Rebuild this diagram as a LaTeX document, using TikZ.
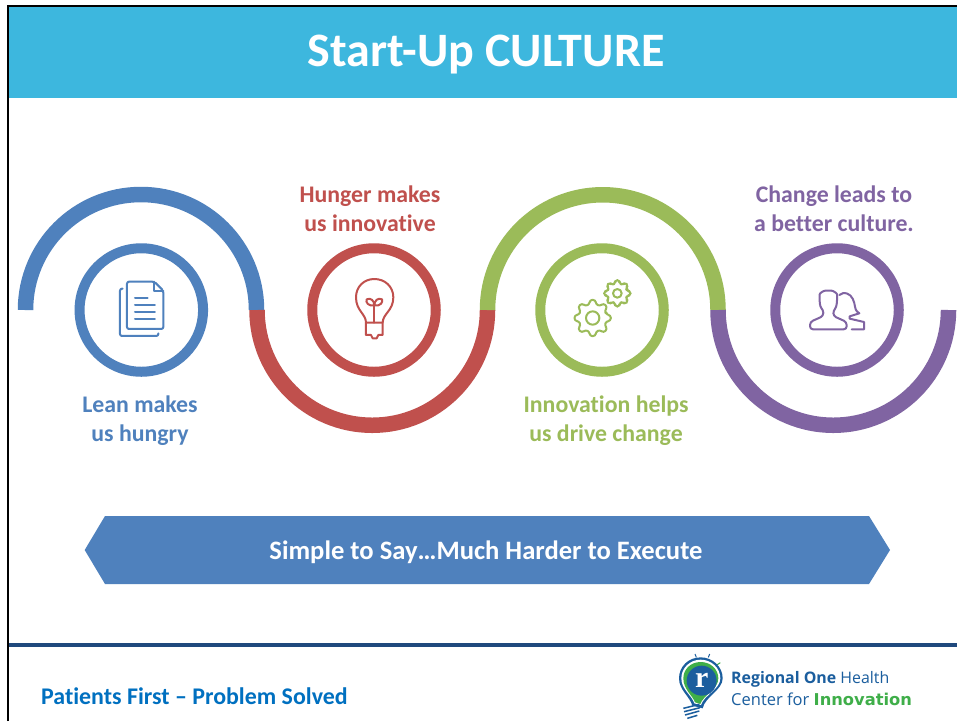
\documentclass[tikz,border=0pt]{standalone}
\usepackage{fontspec}
\setmainfont[Ligatures=NoCommon]{Carlito}
\newfontfamily\logofont{Open Sans}
\newfontfamily\logobold{DejaVu Sans}
\newfontfamily\logoserif{Liberation Serif}
\definecolor{cblue}{HTML}{4F81BD}
\definecolor{cred}{HTML}{C0504D}
\definecolor{cgreen}{HTML}{9BBB59}
\definecolor{cpurple}{HTML}{8064A2}
\definecolor{head}{HTML}{3DB7DE}
\definecolor{rule}{HTML}{1F497D}
\definecolor{foot}{HTML}{0070C0}
\definecolor{logob}{HTML}{1B5E9E}
\definecolor{logog}{HTML}{3FAE49}
\newcommand{\gearshape}[5]{% cx cy ro ri teeth
  \draw[rounded corners=2.5pt] ({#1+#4*cos(-13)},{#2+#4*sin(-13)})
  \foreach \k in {1,...,#5}{
    \pgfextra{\pgfmathsetmacro{\aa}{(\k-1)*360/#5}}
    -- ({#1+#3*cos(\aa-9)},{#2+#3*sin(\aa-9)})
    -- ({#1+#3*cos(\aa+9)},{#2+#3*sin(\aa+9)})
    -- ({#1+#4*cos(\aa+13)},{#2+#4*sin(\aa+13)})
    -- ({#1+#4*cos(\aa+360/#5-13)},{#2+#4*sin(\aa+360/#5-13)})
  } -- cycle;
}
\tikzset{
  x=1pt,y=-1pt,
  swoop/.style={line width=15.5pt,line cap=butt},
  ring/.style={circle,line width=10pt,minimum size=123.5pt,inner sep=0pt},
  lab/.style={align=center,inner sep=0pt,font=\fontsize{23.8}{29}\selectfont\bfseries},
  icon/.style={line width=2pt,line join=round,line cap=round},
}
\begin{document}
\begin{tikzpicture}
\useasboundingbox (0,0) rectangle (957,721);
\fill[white] (0,0) rectangle (957,721);
% header
\fill[head] (8,5) rectangle (957,98);
\draw[black,line width=2pt] (8,721) -- (8,5.5) -- (957,5.5);
\node[text=white,inner sep=0pt,font=\fontsize{48}{54}\selectfont\bfseries] (title) at (486,55) {Start-Up CULTURE};
% swoops
\draw[swoop,cblue] (25.5,310) arc[start angle=180,end angle=360,radius=115.5];
\draw[swoop,cred] (257,310) arc[start angle=180,end angle=0,radius=115.25];
\draw[swoop,cgreen] (487.5,310) arc[start angle=180,end angle=360,radius=115.25];
\draw[swoop,cpurple] (718,310) arc[start angle=180,end angle=0,radius=115.25];
% rings
\node[ring,draw=cblue] (r1) at (141.3,310) {};
\node[ring,draw=cred] (r2) at (374,310) {};
\node[ring,draw=cgreen] (r3) at (602,310) {};
\node[ring,draw=cpurple] (r4) at (837,310) {};
% labels
\node[lab,text=cblue] (l1) at (140,421) {Lean makes\\us hungry};
\node[lab,text=cred] (l2) at (370,209) {Hunger makes\\us innovative};
\node[lab,text=cgreen] (l3) at (606,421) {Innovation helps\\us drive change};
\node[lab,text=cpurple] (l4) at (834,209) {Change leads to\\a better culture.};
% document icon
\begin{scope}[shift={(60,230)},x=0.3333pt,y=-0.3333pt,icon,draw=cblue]
  \draw[rounded corners=2pt] (283,155) -- (201,155) -- (201,297) -- (310,297) -- (310,182) -- cycle;
  \draw (283,155) -- (283,182) -- (310,182);
  \draw[rounded corners=2pt] (188,176) -- (180,176) -- (180,318) -- (295,318) -- (295,310);
  \draw (225,205) -- (263,205) (225,226) -- (285,226) (225,247) -- (285,247) (225,268) -- (285,268);
\end{scope}
% bulb icon
\begin{scope}[shift={(300,240)},x=0.3333pt,y=-0.3333pt,icon,draw=cred]
  \draw (198,248) .. controls (198,222) and (168,212) .. (168,172)
     .. controls (168,140) and (192,117) .. (223,117)
     .. controls (255,117) and (280,140) .. (280,172)
     .. controls (280,212) and (248,222) .. (248,248) -- cycle;
  \draw (198,248) -- (198,285) -- (213,285) -- (218,295) -- (230,295) -- (235,285) -- (248,285) -- (248,248);
  \draw (223,248) -- (223,192);
  \draw (223,196) .. controls (205,200) and (196,186) .. (200,178) .. controls (212,172) and (223,182) .. (223,196);
  \draw (223,196) .. controls (241,200) and (250,186) .. (246,178) .. controls (234,172) and (223,182) .. (223,196);
\end{scope}
% gears icon
\begin{scope}[shift={(530,240)},x=0.3333pt,y=-0.3333pt,icon,draw=cgreen]
  \gearshape{188}{234}{55}{42}{8}
  \draw (188,234) circle[radius=20];
  \gearshape{262}{160}{40}{30}{8}
  \draw (262,160) circle[radius=13];
\end{scope}
% people icon
\begin{scope}[shift={(765,240)},x=0.3333pt,y=-0.3333pt,icon,draw=cpurple]
  \draw[rounded corners=3pt] (135,268) -- (135,246) -- (175,228) -- (175,210)
    .. controls (165,200) and (164,185) .. (164,172)
    .. controls (164,160) and (175,152) .. (190,152)
    .. controls (205,152) and (216,160) .. (216,172)
    .. controls (216,185) and (215,200) .. (205,212)
    -- (205,228) -- (245,246) -- (245,268) -- cycle;
  \draw (223,165) .. controls (230,158) and (240,158) .. (245,160)
    .. controls (262,165) and (268,185) .. (270,200)
    .. controls (272,212) and (278,218) .. (283,220)
    -- (254,229) -- (254,236) -- (297,246) -- (297,268) -- (260,268);
\end{scope}
% band
\fill[cblue] (105,516) -- (869,516) -- (890,550) -- (869,584) -- (105,584) -- (84.7,550) -- cycle;
\node[text=white,inner sep=0pt,font=\fontsize{26.6}{30}\selectfont\bfseries] (band) at (486,552) {Simple to Say…Much Harder to Execute};
% footer
\fill[rule] (9,642.5) rectangle (957,647);
\node[anchor=base west,text=foot,inner sep=0pt,font=\fontsize{23.9}{28}\selectfont\bfseries] (foot) at (41,704) {Patients First – Problem Solved};
% logo
\begin{scope}[shift={(660,640)},x=0.3333pt,y=-0.3333pt]
  \draw[logob,line width=1pt] (105,42) -- (109,52) (149,42) -- (145,52);
  \draw[logog,line width=1pt] (181,68) -- (170,75);
  \fill[logob] (97,197) .. controls (90,170) and (57,150) .. (57,115)
     .. controls (57,80) and (85,52) .. (122,52)
     .. controls (158,52) and (188,80) .. (188,115)
     .. controls (188,150) and (135,170) .. (128,205) -- cycle;
  \fill[white] (103,190) .. controls (95,165) and (64,148) .. (64,115)
     .. controls (64,84) and (90,59) .. (122,59)
     .. controls (154,59) and (181,84) .. (181,115)
     .. controls (181,148) and (132,165) .. (123,195) -- cycle;
  \fill[logog] (105,187) .. controls (97,165) and (70,148) .. (70,115)
     .. controls (70,88) and (92,66) .. (122,66)
     .. controls (152,66) and (175,88) .. (175,115)
     .. controls (175,148) and (130,165) .. (121,192) -- cycle;
  \node[circle,fill=logob,minimum size=30pt,inner sep=0pt,text=white,font=\logoserif\fontsize{30}{30}\selectfont\bfseries] (logomark) at (125,122) {r};
  \draw[logob,line width=1.5pt] (70,205) -- (118,193) (72,215) -- (120,203) (75,225) -- (118,213) (82,235) -- (112,226);
\end{scope}
\node[anchor=base west,inner sep=0pt,text=logob,font=\logofont\fontsize{15.9}{18}\selectfont] (logo1) at (731,683) {\textbf{Regional One} Health};
\node[anchor=base west,inner sep=0pt,text=logob,font=\logofont\fontsize{16.5}{18}\selectfont] (logo2) at (731,705) {Center for \textcolor{logog}{\logobold\bfseries\fontsize{16.3}{18}\selectfont Innovation}};
\end{tikzpicture}
\end{document}
